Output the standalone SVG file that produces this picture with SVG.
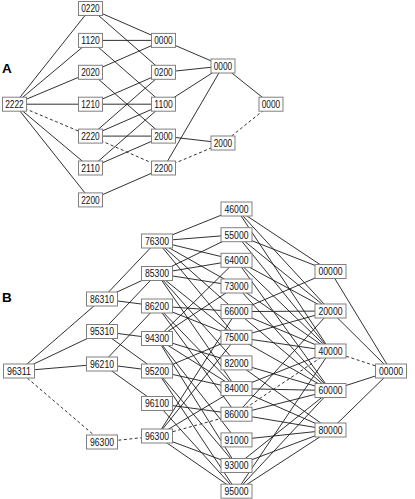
<svg xmlns="http://www.w3.org/2000/svg" width="415" height="499" viewBox="0 0 415 499">
<style>
.n rect{fill:#fff;stroke:#808080;stroke-width:1}
.n text{font-family:"Liberation Sans",Arial,sans-serif;font-size:10.5px;fill:#111;text-anchor:middle}
.e line{stroke:#1a1a1a;stroke-width:0.9;fill:none}
.e line.d{stroke-dasharray:3 2.5}
.lbl{font-family:"Liberation Sans",Arial,sans-serif;font-size:13.5px;font-weight:bold;fill:#000}
</style>
<rect width="415" height="499" fill="#fff"/>
<text class="lbl" x="2" y="73">A</text>
<text class="lbl" x="2" y="302">B</text>
<g id="connectors" class="e">
<line x1="14.5" y1="104.2" x2="90.5" y2="8.5"/>
<line x1="14.5" y1="104.2" x2="90.5" y2="40.4"/>
<line x1="14.5" y1="104.2" x2="90.5" y2="72.3"/>
<line x1="14.5" y1="104.2" x2="90.5" y2="104.2"/>
<line x1="14.5" y1="104.2" x2="90.5" y2="168"/>
<line x1="14.5" y1="104.2" x2="90.5" y2="199.9"/>
<line class="d" x1="14.5" y1="104.2" x2="90.5" y2="136.1"/>
<line x1="90.5" y1="8.5" x2="163.5" y2="40.4"/>
<line x1="90.5" y1="8.5" x2="163.5" y2="72.3"/>
<line x1="90.5" y1="40.4" x2="163.5" y2="40.4"/>
<line x1="90.5" y1="40.4" x2="163.5" y2="104.2"/>
<line x1="90.5" y1="72.3" x2="163.5" y2="40.4"/>
<line x1="90.5" y1="72.3" x2="163.5" y2="136.1"/>
<line x1="90.5" y1="104.2" x2="163.5" y2="72.3"/>
<line x1="90.5" y1="104.2" x2="163.5" y2="104.2"/>
<line x1="90.5" y1="136.1" x2="163.5" y2="72.3"/>
<line x1="90.5" y1="136.1" x2="163.5" y2="104.2"/>
<line x1="90.5" y1="136.1" x2="163.5" y2="136.1"/>
<line class="d" x1="90.5" y1="136.1" x2="163.5" y2="168"/>
<line x1="90.5" y1="168" x2="163.5" y2="104.2"/>
<line x1="90.5" y1="168" x2="163.5" y2="136.1"/>
<line x1="90.5" y1="199.9" x2="163.5" y2="168"/>
<line x1="163.5" y1="40.4" x2="223" y2="66"/>
<line x1="163.5" y1="72.3" x2="223" y2="66"/>
<line x1="163.5" y1="104.2" x2="223" y2="66"/>
<line x1="163.5" y1="168" x2="223" y2="66"/>
<line x1="163.5" y1="136.1" x2="223" y2="143"/>
<line class="d" x1="163.5" y1="168" x2="223" y2="143"/>
<line x1="223" y1="66" x2="271" y2="104.2"/>
<line class="d" x1="223" y1="143" x2="271" y2="104.2"/>
<line x1="19" y1="371" x2="102" y2="299"/>
<line x1="19" y1="371" x2="102" y2="331.5"/>
<line x1="19" y1="371" x2="102" y2="364"/>
<line class="d" x1="19" y1="371" x2="102" y2="442"/>
<line x1="102" y1="299" x2="157" y2="241"/>
<line x1="102" y1="299" x2="157" y2="273.5"/>
<line x1="102" y1="299" x2="157" y2="306"/>
<line x1="102" y1="331.5" x2="157" y2="273.5"/>
<line x1="102" y1="331.5" x2="157" y2="338.5"/>
<line x1="102" y1="331.5" x2="157" y2="371"/>
<line x1="102" y1="364" x2="157" y2="306"/>
<line x1="102" y1="364" x2="157" y2="371"/>
<line x1="102" y1="364" x2="157" y2="403.5"/>
<line class="d" x1="102" y1="442" x2="157" y2="436"/>
<line x1="157" y1="241" x2="236.5" y2="209"/>
<line x1="157" y1="241" x2="236.5" y2="234.7"/>
<line x1="157" y1="241" x2="236.5" y2="260.3"/>
<line x1="157" y1="241" x2="236.5" y2="286"/>
<line x1="157" y1="241" x2="236.5" y2="311.6"/>
<line x1="157" y1="241" x2="236.5" y2="337.3"/>
<line x1="157" y1="273.5" x2="236.5" y2="234.7"/>
<line x1="157" y1="273.5" x2="236.5" y2="260.3"/>
<line x1="157" y1="273.5" x2="236.5" y2="286"/>
<line x1="157" y1="273.5" x2="236.5" y2="362.9"/>
<line x1="157" y1="273.5" x2="236.5" y2="337.3"/>
<line x1="157" y1="273.5" x2="236.5" y2="388.6"/>
<line x1="157" y1="306" x2="236.5" y2="414.2"/>
<line x1="157" y1="306" x2="236.5" y2="311.6"/>
<line x1="157" y1="306" x2="236.5" y2="337.3"/>
<line x1="157" y1="306" x2="236.5" y2="388.6"/>
<line x1="157" y1="338.5" x2="236.5" y2="260.3"/>
<line x1="157" y1="338.5" x2="236.5" y2="286"/>
<line x1="157" y1="338.5" x2="236.5" y2="362.9"/>
<line x1="157" y1="338.5" x2="236.5" y2="439.9"/>
<line x1="157" y1="338.5" x2="236.5" y2="388.6"/>
<line x1="157" y1="338.5" x2="236.5" y2="465.5"/>
<line x1="157" y1="371" x2="236.5" y2="491.2"/>
<line x1="157" y1="371" x2="236.5" y2="337.3"/>
<line x1="157" y1="371" x2="236.5" y2="388.6"/>
<line x1="157" y1="371" x2="236.5" y2="465.5"/>
<line x1="157" y1="403.5" x2="236.5" y2="414.2"/>
<line x1="157" y1="403.5" x2="236.5" y2="491.2"/>
<line x1="157" y1="436" x2="236.5" y2="311.6"/>
<line x1="157" y1="436" x2="236.5" y2="337.3"/>
<line x1="157" y1="436" x2="236.5" y2="388.6"/>
<line x1="157" y1="436" x2="236.5" y2="465.5"/>
<line x1="157" y1="436" x2="236.5" y2="491.2"/>
<line class="d" x1="157" y1="436" x2="236.5" y2="414.2"/>
<line x1="236.5" y1="209" x2="330.5" y2="351"/>
<line x1="236.5" y1="209" x2="330.5" y2="311"/>
<line x1="236.5" y1="209" x2="330.5" y2="271.5"/>
<line x1="236.5" y1="234.7" x2="330.5" y2="351"/>
<line x1="236.5" y1="234.7" x2="330.5" y2="311"/>
<line x1="236.5" y1="234.7" x2="330.5" y2="271.5"/>
<line x1="236.5" y1="260.3" x2="330.5" y2="390.5"/>
<line x1="236.5" y1="260.3" x2="330.5" y2="351"/>
<line x1="236.5" y1="260.3" x2="330.5" y2="311"/>
<line x1="236.5" y1="286" x2="330.5" y2="390.5"/>
<line x1="236.5" y1="286" x2="330.5" y2="351"/>
<line x1="236.5" y1="311.6" x2="330.5" y2="390.5"/>
<line x1="236.5" y1="311.6" x2="330.5" y2="351"/>
<line x1="236.5" y1="311.6" x2="330.5" y2="311"/>
<line x1="236.5" y1="311.6" x2="330.5" y2="271.5"/>
<line x1="236.5" y1="337.3" x2="330.5" y2="390.5"/>
<line x1="236.5" y1="337.3" x2="330.5" y2="351"/>
<line x1="236.5" y1="337.3" x2="330.5" y2="311"/>
<line x1="236.5" y1="362.9" x2="330.5" y2="430"/>
<line x1="236.5" y1="362.9" x2="330.5" y2="390.5"/>
<line x1="236.5" y1="388.6" x2="330.5" y2="430"/>
<line x1="236.5" y1="388.6" x2="330.5" y2="390.5"/>
<line x1="236.5" y1="388.6" x2="330.5" y2="351"/>
<line x1="236.5" y1="414.2" x2="330.5" y2="430"/>
<line x1="236.5" y1="414.2" x2="330.5" y2="390.5"/>
<line x1="236.5" y1="414.2" x2="330.5" y2="311"/>
<line class="d" x1="236.5" y1="414.2" x2="330.5" y2="351"/>
<line x1="236.5" y1="439.9" x2="330.5" y2="430"/>
<line x1="236.5" y1="465.5" x2="330.5" y2="430"/>
<line x1="236.5" y1="465.5" x2="330.5" y2="390.5"/>
<line x1="236.5" y1="491.2" x2="330.5" y2="430"/>
<line x1="236.5" y1="491.2" x2="330.5" y2="390.5"/>
<line x1="236.5" y1="491.2" x2="330.5" y2="351"/>
<line x1="330.5" y1="271.5" x2="391" y2="371"/>
<line x1="330.5" y1="311" x2="391" y2="371"/>
<line class="d" x1="330.5" y1="351" x2="391" y2="371"/>
<line x1="330.5" y1="390.5" x2="391" y2="371"/>
<line x1="330.5" y1="430" x2="391" y2="371"/>
</g>
<g id="a-2222" class="n"><rect x="2.5" y="97.2" width="24" height="14"/><text x="14.5" y="108" textLength="18.5" lengthAdjust="spacingAndGlyphs">2222</text></g>
<g id="a-0220" class="n"><rect x="78.5" y="1.5" width="24" height="14"/><text x="90.5" y="12.3" textLength="18.5" lengthAdjust="spacingAndGlyphs">0220</text></g>
<g id="a-1120" class="n"><rect x="78.5" y="33.4" width="24" height="14"/><text x="90.5" y="44.2" textLength="18.5" lengthAdjust="spacingAndGlyphs">1120</text></g>
<g id="a-2020" class="n"><rect x="78.5" y="65.3" width="24" height="14"/><text x="90.5" y="76.1" textLength="18.5" lengthAdjust="spacingAndGlyphs">2020</text></g>
<g id="a-1210" class="n"><rect x="78.5" y="97.2" width="24" height="14"/><text x="90.5" y="108" textLength="18.5" lengthAdjust="spacingAndGlyphs">1210</text></g>
<g id="a-2220" class="n"><rect x="78.5" y="129.1" width="24" height="14"/><text x="90.5" y="139.9" textLength="18.5" lengthAdjust="spacingAndGlyphs">2220</text></g>
<g id="a-2110" class="n"><rect x="78.5" y="161" width="24" height="14"/><text x="90.5" y="171.8" textLength="18.5" lengthAdjust="spacingAndGlyphs">2110</text></g>
<g id="a-2200" class="n"><rect x="78.5" y="192.9" width="24" height="14"/><text x="90.5" y="203.7" textLength="18.5" lengthAdjust="spacingAndGlyphs">2200</text></g>
<g id="a-c2-0000" class="n"><rect x="151.5" y="33.4" width="24" height="14"/><text x="163.5" y="44.2" textLength="18.5" lengthAdjust="spacingAndGlyphs">0000</text></g>
<g id="a-c2-0200" class="n"><rect x="151.5" y="65.3" width="24" height="14"/><text x="163.5" y="76.1" textLength="18.5" lengthAdjust="spacingAndGlyphs">0200</text></g>
<g id="a-c2-1100" class="n"><rect x="151.5" y="97.2" width="24" height="14"/><text x="163.5" y="108" textLength="18.5" lengthAdjust="spacingAndGlyphs">1100</text></g>
<g id="a-c2-2000" class="n"><rect x="151.5" y="129.1" width="24" height="14"/><text x="163.5" y="139.9" textLength="18.5" lengthAdjust="spacingAndGlyphs">2000</text></g>
<g id="a-c2-2200" class="n"><rect x="151.5" y="161" width="24" height="14"/><text x="163.5" y="171.8" textLength="18.5" lengthAdjust="spacingAndGlyphs">2200</text></g>
<g id="a-c3-0000" class="n"><rect x="211" y="59" width="24" height="14"/><text x="223" y="69.8" textLength="18.5" lengthAdjust="spacingAndGlyphs">0000</text></g>
<g id="a-c3-2000" class="n"><rect x="211" y="136" width="24" height="14"/><text x="223" y="146.8" textLength="18.5" lengthAdjust="spacingAndGlyphs">2000</text></g>
<g id="a-c4-0000" class="n"><rect x="259" y="97.2" width="24" height="14"/><text x="271" y="108" textLength="18.5" lengthAdjust="spacingAndGlyphs">0000</text></g>
<g id="b-96311" class="n"><rect x="3.5" y="364" width="31" height="14"/><text x="19" y="374.8" textLength="24" lengthAdjust="spacingAndGlyphs">96311</text></g>
<g id="b-86310" class="n"><rect x="86.5" y="292" width="31" height="14"/><text x="102" y="302.8" textLength="24" lengthAdjust="spacingAndGlyphs">86310</text></g>
<g id="b-95310" class="n"><rect x="86.5" y="324.5" width="31" height="14"/><text x="102" y="335.3" textLength="24" lengthAdjust="spacingAndGlyphs">95310</text></g>
<g id="b-96210" class="n"><rect x="86.5" y="357" width="31" height="14"/><text x="102" y="367.8" textLength="24" lengthAdjust="spacingAndGlyphs">96210</text></g>
<g id="b-c1-96300" class="n"><rect x="86.5" y="435" width="31" height="14"/><text x="102" y="445.8" textLength="24" lengthAdjust="spacingAndGlyphs">96300</text></g>
<g id="b-76300" class="n"><rect x="141.5" y="234" width="31" height="14"/><text x="157" y="244.8" textLength="24" lengthAdjust="spacingAndGlyphs">76300</text></g>
<g id="b-85300" class="n"><rect x="141.5" y="266.5" width="31" height="14"/><text x="157" y="277.3" textLength="24" lengthAdjust="spacingAndGlyphs">85300</text></g>
<g id="b-86200" class="n"><rect x="141.5" y="299" width="31" height="14"/><text x="157" y="309.8" textLength="24" lengthAdjust="spacingAndGlyphs">86200</text></g>
<g id="b-94300" class="n"><rect x="141.5" y="331.5" width="31" height="14"/><text x="157" y="342.3" textLength="24" lengthAdjust="spacingAndGlyphs">94300</text></g>
<g id="b-95200" class="n"><rect x="141.5" y="364" width="31" height="14"/><text x="157" y="374.8" textLength="24" lengthAdjust="spacingAndGlyphs">95200</text></g>
<g id="b-96100" class="n"><rect x="141.5" y="396.5" width="31" height="14"/><text x="157" y="407.3" textLength="24" lengthAdjust="spacingAndGlyphs">96100</text></g>
<g id="b-c2-96300" class="n"><rect x="141.5" y="429" width="31" height="14"/><text x="157" y="439.8" textLength="24" lengthAdjust="spacingAndGlyphs">96300</text></g>
<g id="b-46000" class="n"><rect x="221" y="202" width="31" height="14"/><text x="236.5" y="212.8" textLength="24" lengthAdjust="spacingAndGlyphs">46000</text></g>
<g id="b-55000" class="n"><rect x="221" y="227.7" width="31" height="14"/><text x="236.5" y="238.5" textLength="24" lengthAdjust="spacingAndGlyphs">55000</text></g>
<g id="b-64000" class="n"><rect x="221" y="253.3" width="31" height="14"/><text x="236.5" y="264.1" textLength="24" lengthAdjust="spacingAndGlyphs">64000</text></g>
<g id="b-73000" class="n"><rect x="221" y="279" width="31" height="14"/><text x="236.5" y="289.8" textLength="24" lengthAdjust="spacingAndGlyphs">73000</text></g>
<g id="b-66000" class="n"><rect x="221" y="304.6" width="31" height="14"/><text x="236.5" y="315.4" textLength="24" lengthAdjust="spacingAndGlyphs">66000</text></g>
<g id="b-75000" class="n"><rect x="221" y="330.3" width="31" height="14"/><text x="236.5" y="341.1" textLength="24" lengthAdjust="spacingAndGlyphs">75000</text></g>
<g id="b-82000" class="n"><rect x="221" y="355.9" width="31" height="14"/><text x="236.5" y="366.7" textLength="24" lengthAdjust="spacingAndGlyphs">82000</text></g>
<g id="b-84000" class="n"><rect x="221" y="381.6" width="31" height="14"/><text x="236.5" y="392.4" textLength="24" lengthAdjust="spacingAndGlyphs">84000</text></g>
<g id="b-86000" class="n"><rect x="221" y="407.2" width="31" height="14"/><text x="236.5" y="418" textLength="24" lengthAdjust="spacingAndGlyphs">86000</text></g>
<g id="b-91000" class="n"><rect x="221" y="432.9" width="31" height="14"/><text x="236.5" y="443.7" textLength="24" lengthAdjust="spacingAndGlyphs">91000</text></g>
<g id="b-93000" class="n"><rect x="221" y="458.5" width="31" height="14"/><text x="236.5" y="469.3" textLength="24" lengthAdjust="spacingAndGlyphs">93000</text></g>
<g id="b-95000" class="n"><rect x="221" y="484.2" width="31" height="14"/><text x="236.5" y="495" textLength="24" lengthAdjust="spacingAndGlyphs">95000</text></g>
<g id="b-c4-00000" class="n"><rect x="315" y="264.5" width="31" height="14"/><text x="330.5" y="275.3" textLength="24" lengthAdjust="spacingAndGlyphs">00000</text></g>
<g id="b-20000" class="n"><rect x="315" y="304" width="31" height="14"/><text x="330.5" y="314.8" textLength="24" lengthAdjust="spacingAndGlyphs">20000</text></g>
<g id="b-40000" class="n"><rect x="315" y="344" width="31" height="14"/><text x="330.5" y="354.8" textLength="24" lengthAdjust="spacingAndGlyphs">40000</text></g>
<g id="b-60000" class="n"><rect x="315" y="383.5" width="31" height="14"/><text x="330.5" y="394.3" textLength="24" lengthAdjust="spacingAndGlyphs">60000</text></g>
<g id="b-80000" class="n"><rect x="315" y="423" width="31" height="14"/><text x="330.5" y="433.8" textLength="24" lengthAdjust="spacingAndGlyphs">80000</text></g>
<g id="b-c5-00000" class="n"><rect x="375.5" y="364" width="31" height="14"/><text x="391" y="374.8" textLength="24" lengthAdjust="spacingAndGlyphs">00000</text></g>
</svg>
